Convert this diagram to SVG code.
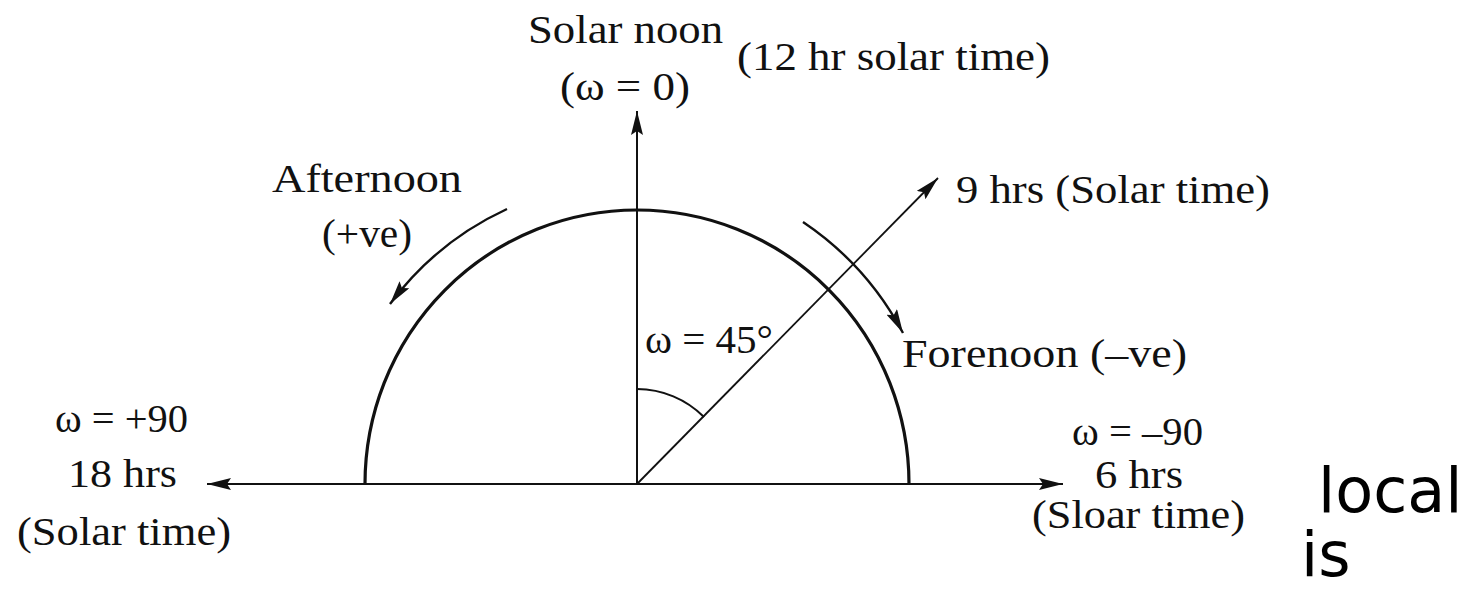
<svg xmlns="http://www.w3.org/2000/svg" width="1476" height="590" viewBox="0 0 1476 590">
<style>
.t{font-family:"Liberation Serif","Times New Roman",serif;font-size:41px;fill:#111}
.s{font-family:"DejaVu Sans",sans-serif;font-size:62px;fill:#000}
.ln{fill:none;stroke:#111;stroke-width:2}
.thick{fill:none;stroke:#111;stroke-width:3.2}
</style>
<defs>
<marker id="ah" markerUnits="userSpaceOnUse" markerWidth="26" markerHeight="12" refX="24" refY="6" orient="auto" viewBox="0 0 26 12">
<path d="M0,0 L24,6 L0,12 L4,6 z" fill="#111"/>
</marker>
</defs>
<rect width="1476" height="590" fill="#fff"/>
<g id="connectors">
<path id="semicircle" class="thick" d="M 365 484 A 272 274 0 0 1 909 484"/>
<path id="baseline-left" class="ln" d="M 637 484 L 207 484" marker-end="url(#ah)"/>
<path id="baseline-right" class="ln" d="M 637 484 L 1063 484" marker-end="url(#ah)"/>
<path id="vertical" class="ln" d="M 637 484 L 637 111" marker-end="url(#ah)"/>
<path id="diagonal" class="ln" style="stroke-width:1.8" d="M 637 484 L 938 178" marker-end="url(#ah)"/>
<path id="angle-arc" class="ln" d="M 637 389 A 95 95 0 0 1 704 417"/>
<path id="afternoon-arrow" class="ln" style="stroke-width:2.4" d="M 507 209 A 305 305 0 0 0 390 304" marker-end="url(#ah)"/>
<path id="forenoon-arrow" class="ln" style="stroke-width:2.4" d="M 803 222 A 308 308 0 0 1 903 333" marker-end="url(#ah)"/>
</g>
<g id="solar-noon">
<text class="t" x="528" y="43" textLength="195" lengthAdjust="spacingAndGlyphs">Solar noon</text>
<text class="t" x="560" y="100" textLength="130" lengthAdjust="spacingAndGlyphs">(ω = 0)</text>
<text class="t" x="737" y="70" textLength="313" lengthAdjust="spacingAndGlyphs">(12 hr solar time)</text>
</g>
<g id="afternoon">
<text class="t" x="272" y="192" textLength="190" lengthAdjust="spacingAndGlyphs">Afternoon</text>
<text class="t" x="322" y="247" textLength="90" lengthAdjust="spacingAndGlyphs">(+ve)</text>
</g>
<g id="nine-hrs">
<text class="t" x="956" y="203" textLength="314" lengthAdjust="spacingAndGlyphs">9 hrs (Solar time)</text>
</g>
<g id="omega45">
<text class="t" x="645" y="353" textLength="128" lengthAdjust="spacingAndGlyphs">ω = 45°</text>
</g>
<g id="forenoon">
<text class="t" x="902" y="367" textLength="285" lengthAdjust="spacingAndGlyphs">Forenoon (–ve)</text>
</g>
<g id="eighteen-hrs">
<text class="t" x="55" y="432" textLength="133" lengthAdjust="spacingAndGlyphs">ω = +90</text>
<text class="t" x="68" y="487" textLength="109" lengthAdjust="spacingAndGlyphs">18 hrs</text>
<text class="t" x="17" y="545" textLength="214" lengthAdjust="spacingAndGlyphs">(Solar time)</text>
</g>
<g id="six-hrs">
<text class="t" x="1072" y="445" textLength="131" lengthAdjust="spacingAndGlyphs">ω = –90</text>
<text class="t" x="1095" y="488" textLength="88" lengthAdjust="spacingAndGlyphs">6 hrs</text>
<text class="t" x="1032" y="528" textLength="213" lengthAdjust="spacingAndGlyphs">(Sloar time)</text>
</g>
<g id="side-text">
<text class="s" x="1318" y="512">local</text>
<text class="s" x="1301" y="576">is</text>
</g>
</svg>
